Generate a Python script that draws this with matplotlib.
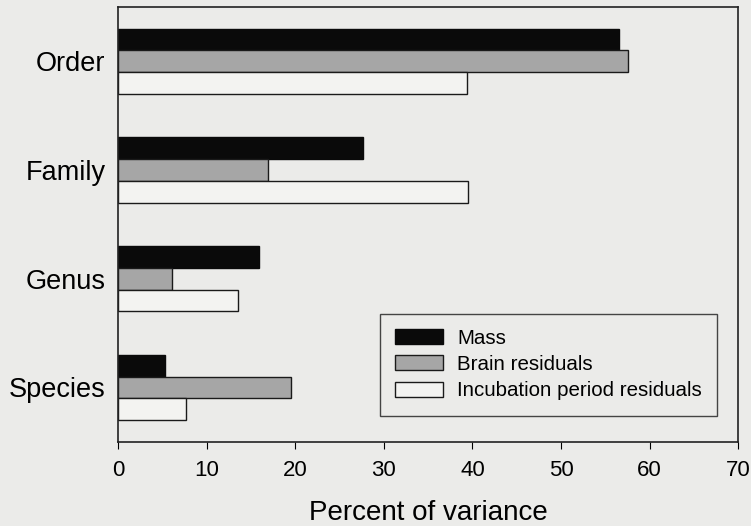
import numpy as np
import matplotlib.pyplot as plt

plt.rcParams['font.family'] = ['Liberation Sans', 'DejaVu Sans']

levels = ["Order", "Family", "Genus", "Species"]
mass = [56.5, 27.7, 15.9, 5.3]
brain = [57.6, 16.9, 6.1, 19.5]
incubation = [39.4, 39.5, 13.5, 7.7]

bg = '#ebebe9'
fig = plt.figure(figsize=(7.51, 5.26), dpi=100, facecolor=bg)
ax = fig.add_axes([0.157, 0.160, 0.826, 0.827], facecolor=bg)

y = np.arange(len(levels))
h = 0.2
ax.barh(y - h, mass, height=h, color='#0a0a0a', edgecolor='#0a0a0a', lw=1, label='Mass')
ax.barh(y, brain, height=h, color='#a6a6a6', edgecolor='#1a1a1a', lw=1, label='Brain residuals')
ax.barh(y + h, incubation, height=h, color='#f3f3f1', edgecolor='#1a1a1a', lw=1,
        label='Incubation period residuals')

ax.set_ylim(3.5, -0.5)
ax.set_xlim(0, 70)
ax.set_xticks(range(0, 71, 10))
ax.set_yticks(y)
ax.set_yticklabels(levels, fontsize=19.5)
ax.tick_params(axis='y', length=0, pad=9)
ax.tick_params(axis='x', labelsize=16, length=5, direction='out', pad=8)
ax.set_xlabel('Percent of variance', fontsize=20, labelpad=14)
for s in ax.spines.values():
    s.set_color('#222222')
    s.set_linewidth(1.2)

leg = ax.legend(loc='lower right', bbox_to_anchor=(0.966, 0.06), borderaxespad=0,
                fontsize=14.8, frameon=True, fancybox=False, framealpha=1, facecolor=bg,
                edgecolor='#444444', handlelength=2.3, handleheight=0.75,
                borderpad=0.75, labelspacing=0.35, handletextpad=0.7)
leg.get_frame().set_linewidth(1.0)

fig.savefig('out.png', dpi=100, facecolor=bg)
